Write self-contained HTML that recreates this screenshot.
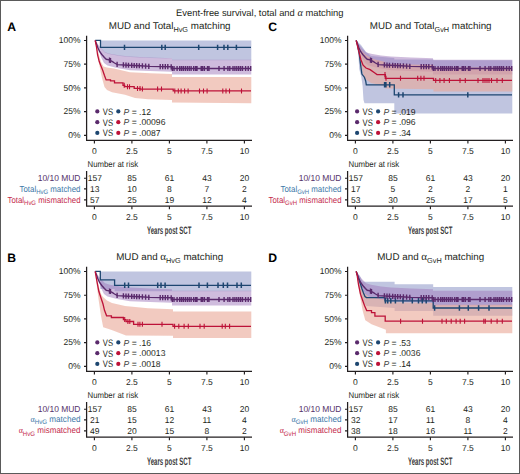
<!DOCTYPE html><html><head><meta charset="utf-8"><style>html,body{margin:0;padding:0;background:#fff;overflow:hidden;}svg{display:block;font-family:"Liberation Sans",sans-serif;text-rendering:geometricPrecision;}</style></head><body>
<svg width="520" height="474" viewBox="0 0 520 474">
<rect x="0" y="0" width="520" height="474" fill="#fff"/>
<text x="176.1" y="15.6" font-size="9.4" fill="#231f20" textLength="167.4" lengthAdjust="spacingAndGlyphs">Event-free survival, total and <tspan font-family="Liberation Serif" font-style="italic" font-size="10.5">α</tspan> matching</text>
<text x="7.3" y="31.1" font-size="12.2" fill="#000" text-anchor="start" font-weight="bold">A</text>
<text x="169.7" y="29.3" font-size="9.8" fill="#231f20" text-anchor="middle">MUD and Total<tspan font-size="7.3" dy="2.6">HvG</tspan><tspan dy="-2.6"> matching</tspan></text>
<path d="M100.5 40.4 L251.3 40.4 L251.3 60.2 L172 60.2 L172 58.6 L150 57.9 L130 56.9 L120 55.9 L110 54.2 L105 52.7 L100.5 47.9 Z" fill="#c0c5e0" fill-opacity="1.0"/>
<path d="M95.2 40.4 L97 43 L100.5 47.5 L105 52.3 L110 53.8 L120 55.5 L130 56.5 L150 57.5 L172 58.2 L172 59.8 L251.3 59.8 L251.3 74.4 L172 74.4 L172 71.8 L150 70.9 L130 70.3 L117 68 L107.5 65.5 L104 63 L101 57 L98 48 Z" fill="#a07abb" fill-opacity="0.5"/>
<path d="M95.2 40.4 L97 47 L99.3 56 L101 62 L103.5 66.5 L107 67.6 L114 68.6 L130 72.2 L150 73.2 L172 74.1 L172 76.9 L251.3 76.9 L251.3 103.3 L172 102.6 L172 100 L148 99.2 L135 98 L125 94.8 L112 92.3 L107 90 L104.5 87 L102 78 L99.5 66 L97.5 55 Z" fill="#e9a796" fill-opacity="0.6"/>
<path d="M95.2 40.4 L100.5 40.4 L100.5 47.4 L251 47.4" fill="none" stroke="#1d4670" stroke-width="1.3" stroke-linejoin="miter"/>
<path d="M124.5 44.7V50.1M161.8 44.7V50.1M165.2 44.7V50.1M198.7 44.7V50.1M217.6 44.7V50.1M224 44.7V50.1M227.8 44.7V50.1M236.4 44.7V50.1" stroke="#1d4670" stroke-width="1.5" fill="none"/>
<path d="M95.2 40.4 L96.5 44 L98 48 L99.6 51.5 L101.8 54.5 L104.4 57.5 L106.3 59.3 L108.9 59.8 L110.5 60.5 L112.5 61.7 L114.5 63 L117.5 64.6 L128 65.2 L140 65.8 L150 66.4 L172 66.8 L172 68.5 L251 68.5" fill="none" stroke="#5a2a6c" stroke-width="1.4" stroke-linejoin="miter"/>
<path d="M109.5 57.46V62.66M110.5 57.9V63.1M117.1 61.79V66.99M123.4 62.34V67.54M126 62.49V67.69M128.5 62.63V67.83M131.7 62.79V67.98M134.2 62.91V68.11M136.7 63.04V68.23M139.3 63.16V68.36M142.4 63.34V68.54M145.6 63.54V68.74M148.8 63.73V68.93M160.2 63.99V69.19M162.7 64.03V69.23M165.3 64.08V69.28M167.8 64.12V69.32M171.2 64.19V69.39M172.3 65.9V71.1M174 65.9V71.1M177.1 65.9V71.1M179.7 65.9V71.1M181.5 65.9V71.1M183.3 65.9V71.1M185.3 65.9V71.1M187.3 65.9V71.1M189.2 65.9V71.1M191.1 65.9V71.1M193.7 65.9V71.1M195.6 65.9V71.1M197 65.9V71.1M201.2 65.9V71.1M202.6 65.9V71.1M204.4 65.9V71.1M207.5 65.9V71.1M209 65.9V71.1M219 65.9V71.1M224.1 65.9V71.1M227.9 65.9V71.1M229.8 65.9V71.1M233 65.9V71.1M234.9 65.9V71.1M236.8 65.9V71.1M238.7 65.9V71.1M240.6 65.9V71.1M242.5 65.9V71.1M245.6 65.9V71.1M248.2 65.9V71.1M250.7 65.9V71.1" stroke="#5a2a6c" stroke-width="1.4" fill="none"/>
<path d="M95.2 40.4 L96.5 47 L97.6 55 L99.3 61.8 L101 66 L102.7 70.2 L104.4 75.3 L106.1 79.9 L110.5 79.9 L110.5 80.8 L114.5 80.8 L114.5 82.8 L123 82.8 L123 85.3 L124.7 85.3 L124.7 86.7 L134.2 86.7 L134.2 88.4 L140 88.4 L140 89.1 L173.2 89.1 L173.2 90.9 L251 90.9" fill="none" stroke="#bd1238" stroke-width="1.3" stroke-linejoin="miter"/>
<path d="M124.2 82.8V87.8M127.5 84.2V89.2M129.5 84.2V89.2M137.5 85.9V90.9M140 85.9V90.9M142.4 86.6V91.6M157.6 86.6V91.6M161.5 86.6V91.6M174.8 88.4V93.4M178.3 88.4V93.4M181.1 88.4V93.4M184.6 88.4V93.4M188.1 88.4V93.4M199.5 88.4V93.4M203.5 88.4V93.4M207.1 88.4V93.4M222.8 88.4V93.4M226 88.4V93.4M229.5 88.4V93.4M241.5 88.4V93.4" stroke="#bd1238" stroke-width="1.1" fill="none"/>
<path d="M86.6 35.7V140.4H252" fill="none" stroke="#231f20" stroke-width="1.25"/>
<path d="M84 40.5H86.6M84 64.2H86.6M84 87.9H86.6M84 111.6H86.6M84 135.3H86.6M94.4 140.3V143.6M131.9 140.3V143.6M169.4 140.3V143.6M206.9 140.3V143.6M244.4 140.3V143.6" stroke="#231f20" stroke-width="1.15"/>
<text x="80.6" y="43.1" font-size="8.5" fill="#231f20" text-anchor="end" font-weight="normal">100%</text>
<text x="80.6" y="66.8" font-size="8.5" fill="#231f20" text-anchor="end" font-weight="normal">75%</text>
<text x="80.6" y="90.5" font-size="8.5" fill="#231f20" text-anchor="end" font-weight="normal">50%</text>
<text x="80.6" y="114.2" font-size="8.5" fill="#231f20" text-anchor="end" font-weight="normal">25%</text>
<text x="80.6" y="137.9" font-size="8.5" fill="#231f20" text-anchor="end" font-weight="normal">0%</text>
<text x="94.4" y="153.9" font-size="8.5" fill="#231f20" text-anchor="middle" font-weight="normal">0</text>
<text x="131.9" y="153.9" font-size="8.5" fill="#231f20" text-anchor="middle" font-weight="normal">2.5</text>
<text x="169.4" y="153.9" font-size="8.5" fill="#231f20" text-anchor="middle" font-weight="normal">5</text>
<text x="206.9" y="153.9" font-size="8.5" fill="#231f20" text-anchor="middle" font-weight="normal">7.5</text>
<text x="244.4" y="153.9" font-size="8.5" fill="#231f20" text-anchor="middle" font-weight="normal">10</text>
<circle cx="97.3" cy="111.4" r="2.1" fill="#5a2a6c"/>
<circle cx="118.3" cy="111.4" r="2.1" fill="#1d4670"/>
<text x="102.8" y="114.7" font-size="9.4" fill="#231f20" text-anchor="start" font-weight="normal" textLength="10.2" lengthAdjust="spacingAndGlyphs">VS</text>
<text x="123.6" y="114.5" font-size="8.6" fill="#231f20"><tspan font-style="italic" fill="#444">P</tspan> = .12</text>
<circle cx="97.3" cy="122.2" r="2.1" fill="#5a2a6c"/>
<circle cx="118.3" cy="122.2" r="2.1" fill="#bd1238"/>
<text x="102.8" y="125.5" font-size="9.4" fill="#231f20" text-anchor="start" font-weight="normal" textLength="10.2" lengthAdjust="spacingAndGlyphs">VS</text>
<text x="123.6" y="125.3" font-size="8.6" fill="#231f20"><tspan font-style="italic" fill="#444">P</tspan> = .00096</text>
<circle cx="97.3" cy="132.9" r="2.1" fill="#1d4670"/>
<circle cx="118.3" cy="132.9" r="2.1" fill="#bd1238"/>
<text x="102.8" y="136.2" font-size="9.4" fill="#231f20" text-anchor="start" font-weight="normal" textLength="10.2" lengthAdjust="spacingAndGlyphs">VS</text>
<text x="123.6" y="136" font-size="8.6" fill="#231f20"><tspan font-style="italic" fill="#444">P</tspan> = .0087</text>
<text x="87.5" y="166.8" font-size="8.5" fill="#231f20" text-anchor="start" font-weight="normal" textLength="50.7" lengthAdjust="spacingAndGlyphs">Number at risk</text>
<path d="M86.6 171V206.2H252" fill="none" stroke="#231f20" stroke-width="1.25"/>
<path d="M84 178.2H86.6M84 188.8H86.6M84 199.8H86.6M94.4 206.2V209.2M131.9 206.2V209.2M169.4 206.2V209.2M206.9 206.2V209.2M244.4 206.2V209.2" stroke="#231f20" stroke-width="1.15"/>
<text x="94.4" y="219.8" font-size="8.5" fill="#231f20" text-anchor="middle" font-weight="normal">0</text>
<text x="131.9" y="219.8" font-size="8.5" fill="#231f20" text-anchor="middle" font-weight="normal">2.5</text>
<text x="169.4" y="219.8" font-size="8.5" fill="#231f20" text-anchor="middle" font-weight="normal">5</text>
<text x="206.9" y="219.8" font-size="8.5" fill="#231f20" text-anchor="middle" font-weight="normal">7.5</text>
<text x="244.4" y="219.8" font-size="8.5" fill="#231f20" text-anchor="middle" font-weight="normal">10</text>
<text x="147" y="233.6" font-size="10.8" font-weight="bold" fill="#3a3a3a" textLength="44.4" lengthAdjust="spacingAndGlyphs">Years post SCT</text>
<text x="80.5" y="180.7" font-size="8.7" fill="#55336a" text-anchor="end" font-weight="normal" textLength="42.8" lengthAdjust="spacingAndGlyphs">10/10 MUD</text>
<text x="94.8" y="180.7" font-size="8.5" fill="#231f20" text-anchor="middle" font-weight="normal">157</text>
<text x="131.9" y="180.7" font-size="8.5" fill="#231f20" text-anchor="middle" font-weight="normal">85</text>
<text x="169.4" y="180.7" font-size="8.5" fill="#231f20" text-anchor="middle" font-weight="normal">61</text>
<text x="206.9" y="180.7" font-size="8.5" fill="#231f20" text-anchor="middle" font-weight="normal">43</text>
<text x="244.4" y="180.7" font-size="8.5" fill="#231f20" text-anchor="middle" font-weight="normal">20</text>
<text x="19.5" y="191.6" font-size="8.7" fill="#3d78a8" text-anchor="start" textLength="61" lengthAdjust="spacingAndGlyphs">Total<tspan font-size="6.6" dy="2.2">HvG</tspan><tspan dy="-2.2"> matched</tspan></text>
<text x="94.8" y="191.6" font-size="8.5" fill="#231f20" text-anchor="middle" font-weight="normal">13</text>
<text x="131.9" y="191.6" font-size="8.5" fill="#231f20" text-anchor="middle" font-weight="normal">10</text>
<text x="169.4" y="191.6" font-size="8.5" fill="#231f20" text-anchor="middle" font-weight="normal">8</text>
<text x="206.9" y="191.6" font-size="8.5" fill="#231f20" text-anchor="middle" font-weight="normal">7</text>
<text x="244.4" y="191.6" font-size="8.5" fill="#231f20" text-anchor="middle" font-weight="normal">2</text>
<text x="7.5" y="202.9" font-size="8.7" fill="#c42a4c" text-anchor="start" textLength="73" lengthAdjust="spacingAndGlyphs">Total<tspan font-size="6.6" dy="2.2">HvG</tspan><tspan dy="-2.2"> mismatched</tspan></text>
<text x="94.8" y="202.9" font-size="8.5" fill="#231f20" text-anchor="middle" font-weight="normal">57</text>
<text x="131.9" y="202.9" font-size="8.5" fill="#231f20" text-anchor="middle" font-weight="normal">25</text>
<text x="169.4" y="202.9" font-size="8.5" fill="#231f20" text-anchor="middle" font-weight="normal">19</text>
<text x="206.9" y="202.9" font-size="8.5" fill="#231f20" text-anchor="middle" font-weight="normal">12</text>
<text x="244.4" y="202.9" font-size="8.5" fill="#231f20" text-anchor="middle" font-weight="normal">4</text>
<text x="7.3" y="262.1" font-size="12.2" fill="#000" text-anchor="start" font-weight="bold">B</text>
<text x="169.7" y="260.3" font-size="9.8" fill="#231f20" text-anchor="middle">MUD and <tspan font-family="Liberation Serif" font-size="11">α</tspan><tspan font-size="7.3" dy="2.6">HvG</tspan><tspan dy="-2.6"> matching</tspan></text>
<path d="M100.3 271.4 L251.3 271.4 L251.3 291.3 L114.6 291.3 L114.6 289 L100.3 289 Z" fill="#c0c5e0" fill-opacity="1.0"/>
<path d="M95.2 271.4 L97 274 L100.5 278.5 L105 283.3 L110 284.8 L120 286.5 L130 287.5 L150 288.5 L172 289.2 L172 290.8 L251.3 290.8 L251.3 305.4 L172 305.4 L172 302.8 L150 301.9 L130 301.3 L117 299 L107.5 296.5 L104 294 L101 288 L98 279 Z" fill="#a07abb" fill-opacity="0.5"/>
<path d="M95.2 271.4 L97 279 L99 287 L101 294 L103 297 L107 300.5 L112 303 L125 306 L148 308.3 L173 309.2 L173 311.4 L251.3 311.4 L251.3 338 L173 338 L173 335.8 L126 335.4 L111 329.7 L103.2 327.2 L101 316 L98.5 299 L96.5 283 Z" fill="#e9a796" fill-opacity="0.6"/>
<path d="M95.2 271.4 L100.3 271.4 L100.3 279.9 L114.6 279.9 L114.6 285.3 L251 285.3" fill="none" stroke="#1d4670" stroke-width="1.3" stroke-linejoin="miter"/>
<path d="M124.7 282.6V288M128.5 282.6V288M157.7 282.6V288M161 282.6V288M165.1 282.6V288M199 282.6V288M207.4 282.6V288M218 282.6V288M223.3 282.6V288M227.5 282.6V288M237 282.6V288M241.3 282.6V288" stroke="#1d4670" stroke-width="1.5" fill="none"/>
<path d="M95.2 271.4 L96.5 275 L98 279 L99.6 282.5 L101.8 285.5 L104.4 288.5 L106.3 290.3 L108.9 290.8 L110.5 291.5 L112.5 292.7 L114.5 294 L117.5 295.6 L128 296.2 L140 296.8 L150 297.4 L172 297.8 L172 299.5 L251 299.5" fill="none" stroke="#5a2a6c" stroke-width="1.4" stroke-linejoin="miter"/>
<path d="M109.5 288.46V293.66M110.5 288.9V294.1M117.1 292.79V297.99M123.4 293.34V298.54M126 293.49V298.69M128.5 293.62V298.82M131.7 293.79V298.99M134.2 293.91V299.11M136.7 294.04V299.24M139.3 294.17V299.37M142.4 294.34V299.54M145.6 294.54V299.74M148.8 294.73V299.93M160.2 294.99V300.19M162.7 295.03V300.23M165.3 295.08V300.28M167.8 295.12V300.32M171.2 295.19V300.39M172.3 296.9V302.1M174 296.9V302.1M177.1 296.9V302.1M179.7 296.9V302.1M181.5 296.9V302.1M183.3 296.9V302.1M185.3 296.9V302.1M187.3 296.9V302.1M189.2 296.9V302.1M191.1 296.9V302.1M193.7 296.9V302.1M195.6 296.9V302.1M197 296.9V302.1M201.2 296.9V302.1M202.6 296.9V302.1M204.4 296.9V302.1M207.5 296.9V302.1M209 296.9V302.1M219 296.9V302.1M224.1 296.9V302.1M227.9 296.9V302.1M229.8 296.9V302.1M233 296.9V302.1M234.9 296.9V302.1M236.8 296.9V302.1M238.7 296.9V302.1M240.6 296.9V302.1M242.5 296.9V302.1M245.6 296.9V302.1M248.2 296.9V302.1M250.7 296.9V302.1" stroke="#5a2a6c" stroke-width="1.4" fill="none"/>
<path d="M95.2 271.4 L96.5 279 L98.8 291.3 L101 298 L103 304 L104.5 310.3 L106.6 315.8 L111.4 315.8 L111.4 317.5 L123.4 317.5 L123.4 319.6 L126 319.6 L126 321.5 L133.6 321.5 L133.6 324.3 L173 324.3 L173 326.3 L251 326.3" fill="none" stroke="#bd1238" stroke-width="1.3" stroke-linejoin="miter"/>
<path d="M124.7 317.1V322.1M127.9 319V324M129.8 319V324M138 321.8V326.8M139.9 321.8V326.8M142.4 321.8V326.8M162 321.8V326.8M174.6 323.8V328.8M178.8 323.8V328.8M184.1 323.8V328.8M188.3 323.8V328.8M200 323.8V328.8M204.2 323.8V328.8M222.2 323.8V328.8M225.3 323.8V328.8M229.6 323.8V328.8" stroke="#bd1238" stroke-width="1.1" fill="none"/>
<path d="M86.6 266.7V371.4H252" fill="none" stroke="#231f20" stroke-width="1.25"/>
<path d="M84 271.5H86.6M84 295.2H86.6M84 318.9H86.6M84 342.6H86.6M84 366.3H86.6M94.4 371.3V374.6M131.9 371.3V374.6M169.4 371.3V374.6M206.9 371.3V374.6M244.4 371.3V374.6" stroke="#231f20" stroke-width="1.15"/>
<text x="80.6" y="274.1" font-size="8.5" fill="#231f20" text-anchor="end" font-weight="normal">100%</text>
<text x="80.6" y="297.8" font-size="8.5" fill="#231f20" text-anchor="end" font-weight="normal">75%</text>
<text x="80.6" y="321.5" font-size="8.5" fill="#231f20" text-anchor="end" font-weight="normal">50%</text>
<text x="80.6" y="345.2" font-size="8.5" fill="#231f20" text-anchor="end" font-weight="normal">25%</text>
<text x="80.6" y="368.9" font-size="8.5" fill="#231f20" text-anchor="end" font-weight="normal">0%</text>
<text x="94.4" y="384.9" font-size="8.5" fill="#231f20" text-anchor="middle" font-weight="normal">0</text>
<text x="131.9" y="384.9" font-size="8.5" fill="#231f20" text-anchor="middle" font-weight="normal">2.5</text>
<text x="169.4" y="384.9" font-size="8.5" fill="#231f20" text-anchor="middle" font-weight="normal">5</text>
<text x="206.9" y="384.9" font-size="8.5" fill="#231f20" text-anchor="middle" font-weight="normal">7.5</text>
<text x="244.4" y="384.9" font-size="8.5" fill="#231f20" text-anchor="middle" font-weight="normal">10</text>
<circle cx="97.3" cy="342.4" r="2.1" fill="#5a2a6c"/>
<circle cx="118.3" cy="342.4" r="2.1" fill="#1d4670"/>
<text x="102.8" y="345.7" font-size="9.4" fill="#231f20" text-anchor="start" font-weight="normal" textLength="10.2" lengthAdjust="spacingAndGlyphs">VS</text>
<text x="123.6" y="345.5" font-size="8.6" fill="#231f20"><tspan font-style="italic" fill="#444">P</tspan> = .16</text>
<circle cx="97.3" cy="353.2" r="2.1" fill="#5a2a6c"/>
<circle cx="118.3" cy="353.2" r="2.1" fill="#bd1238"/>
<text x="102.8" y="356.5" font-size="9.4" fill="#231f20" text-anchor="start" font-weight="normal" textLength="10.2" lengthAdjust="spacingAndGlyphs">VS</text>
<text x="123.6" y="356.3" font-size="8.6" fill="#231f20"><tspan font-style="italic" fill="#444">P</tspan> = .00013</text>
<circle cx="97.3" cy="363.9" r="2.1" fill="#1d4670"/>
<circle cx="118.3" cy="363.9" r="2.1" fill="#bd1238"/>
<text x="102.8" y="367.2" font-size="9.4" fill="#231f20" text-anchor="start" font-weight="normal" textLength="10.2" lengthAdjust="spacingAndGlyphs">VS</text>
<text x="123.6" y="367" font-size="8.6" fill="#231f20"><tspan font-style="italic" fill="#444">P</tspan> = .0018</text>
<text x="87.5" y="397.8" font-size="8.5" fill="#231f20" text-anchor="start" font-weight="normal" textLength="50.7" lengthAdjust="spacingAndGlyphs">Number at risk</text>
<path d="M86.6 402V437.2H252" fill="none" stroke="#231f20" stroke-width="1.25"/>
<path d="M84 409.2H86.6M84 419.8H86.6M84 430.8H86.6M94.4 437.2V440.2M131.9 437.2V440.2M169.4 437.2V440.2M206.9 437.2V440.2M244.4 437.2V440.2" stroke="#231f20" stroke-width="1.15"/>
<text x="94.4" y="450.8" font-size="8.5" fill="#231f20" text-anchor="middle" font-weight="normal">0</text>
<text x="131.9" y="450.8" font-size="8.5" fill="#231f20" text-anchor="middle" font-weight="normal">2.5</text>
<text x="169.4" y="450.8" font-size="8.5" fill="#231f20" text-anchor="middle" font-weight="normal">5</text>
<text x="206.9" y="450.8" font-size="8.5" fill="#231f20" text-anchor="middle" font-weight="normal">7.5</text>
<text x="244.4" y="450.8" font-size="8.5" fill="#231f20" text-anchor="middle" font-weight="normal">10</text>
<text x="147" y="464.6" font-size="10.8" font-weight="bold" fill="#3a3a3a" textLength="44.4" lengthAdjust="spacingAndGlyphs">Years post SCT</text>
<text x="80.5" y="411.7" font-size="8.7" fill="#55336a" text-anchor="end" font-weight="normal" textLength="42.8" lengthAdjust="spacingAndGlyphs">10/10 MUD</text>
<text x="94.8" y="411.7" font-size="8.5" fill="#231f20" text-anchor="middle" font-weight="normal">157</text>
<text x="131.9" y="411.7" font-size="8.5" fill="#231f20" text-anchor="middle" font-weight="normal">85</text>
<text x="169.4" y="411.7" font-size="8.5" fill="#231f20" text-anchor="middle" font-weight="normal">61</text>
<text x="206.9" y="411.7" font-size="8.5" fill="#231f20" text-anchor="middle" font-weight="normal">43</text>
<text x="244.4" y="411.7" font-size="8.5" fill="#231f20" text-anchor="middle" font-weight="normal">20</text>
<text x="30.5" y="422.6" font-size="8.7" fill="#3d78a8" text-anchor="start" textLength="50" lengthAdjust="spacingAndGlyphs"><tspan font-family="Liberation Serif" font-size="8.6" dy="-0.6">α</tspan><tspan dy="0.6"></tspan><tspan font-size="6.6" dy="2.2">HvG</tspan><tspan dy="-2.2"> matched</tspan></text>
<text x="94.8" y="422.6" font-size="8.5" fill="#231f20" text-anchor="middle" font-weight="normal">21</text>
<text x="131.9" y="422.6" font-size="8.5" fill="#231f20" text-anchor="middle" font-weight="normal">15</text>
<text x="169.4" y="422.6" font-size="8.5" fill="#231f20" text-anchor="middle" font-weight="normal">12</text>
<text x="206.9" y="422.6" font-size="8.5" fill="#231f20" text-anchor="middle" font-weight="normal">11</text>
<text x="244.4" y="422.6" font-size="8.5" fill="#231f20" text-anchor="middle" font-weight="normal">4</text>
<text x="18.7" y="433.9" font-size="8.7" fill="#c42a4c" text-anchor="start" textLength="61.8" lengthAdjust="spacingAndGlyphs"><tspan font-family="Liberation Serif" font-size="8.6" dy="-0.6">α</tspan><tspan dy="0.6"></tspan><tspan font-size="6.6" dy="2.2">HvG</tspan><tspan dy="-2.2"> mismatched</tspan></text>
<text x="94.8" y="433.9" font-size="8.5" fill="#231f20" text-anchor="middle" font-weight="normal">49</text>
<text x="131.9" y="433.9" font-size="8.5" fill="#231f20" text-anchor="middle" font-weight="normal">20</text>
<text x="169.4" y="433.9" font-size="8.5" fill="#231f20" text-anchor="middle" font-weight="normal">15</text>
<text x="206.9" y="433.9" font-size="8.5" fill="#231f20" text-anchor="middle" font-weight="normal">8</text>
<text x="244.4" y="433.9" font-size="8.5" fill="#231f20" text-anchor="middle" font-weight="normal">2</text>
<text x="268.3" y="31.1" font-size="12.2" fill="#000" text-anchor="start" font-weight="bold">C</text>
<text x="430.7" y="29.3" font-size="9.8" fill="#231f20" text-anchor="middle">MUD and Total<tspan font-size="7.3" dy="2.6">GvH</tspan><tspan dy="-2.6"> matching</tspan></text>
<path d="M356.2 40.4 L361 45 L366 52 L371 56 L394.3 58 L394.3 59.5 L433.5 59.5 L433.5 60.3 L512.3 60.3 L512.3 113.4 L394.3 113.4 L394.3 103.2 L364.5 103.2 L363.5 100 L362.6 86 L361.2 76.5 L359.2 69 L358.4 55 Z" fill="#c0c5e0" fill-opacity="1.0"/>
<path d="M356.2 40.4 L358 43 L361.5 47.5 L366 52.3 L371 53.8 L381 55.5 L391 56.5 L411 57.5 L433 58.2 L433 59.8 L512.3 59.8 L512.3 74.4 L433 74.4 L433 71.8 L411 70.9 L391 70.3 L378 68 L368.5 65.5 L365 63 L362 57 L359 48 Z" fill="#a07abb" fill-opacity="0.5"/>
<path d="M356.2 40.4 L361 50 L366 55 L373 59 L385.3 62 L385.3 64 L433.5 65 L433.5 67.5 L512.3 67.5 L512.3 91.6 L433.5 91.6 L433.5 89.2 L385.3 88.5 L385.3 86 L371 83 L364 78 L361 66 L358 50 Z" fill="#e9a796" fill-opacity="0.6"/>
<path d="M356.2 40.4 L357.5 45 L359 52 L360.6 64.6 L361.9 74.1 L364.4 77.2 L365.7 81 L366.3 84.8 L394.3 84.8 L394.3 94.9 L512 94.9" fill="none" stroke="#1d4670" stroke-width="1.3" stroke-linejoin="miter"/>
<path d="M384.6 82.1V87.5M385.9 82.1V87.5M389.7 82.1V87.5M398.6 92.2V97.6M403 92.2V97.6M467.8 92.2V97.6" stroke="#1d4670" stroke-width="1.5" fill="none"/>
<path d="M356.2 40.4 L357.5 44 L359 48 L360.6 51.5 L362.8 54.5 L365.4 57.5 L367.3 59.3 L369.9 59.8 L371.5 60.5 L373.5 61.7 L375.5 63 L378.5 64.6 L389 65.2 L401 65.8 L411 66.4 L433 66.8 L433 68.5 L512 68.5" fill="none" stroke="#5a2a6c" stroke-width="1.4" stroke-linejoin="miter"/>
<path d="M370.5 57.46V62.66M371.5 57.9V63.1M378.1 61.79V66.99M384.4 62.34V67.54M387 62.49V67.69M389.5 62.63V67.83M392.7 62.79V67.98M395.2 62.91V68.11M397.7 63.04V68.23M400.3 63.16V68.36M403.4 63.34V68.54M406.6 63.54V68.74M409.8 63.73V68.93M421.2 63.99V69.19M423.7 64.03V69.23M426.3 64.08V69.28M428.8 64.12V69.32M432.2 64.19V69.39M433.3 65.9V71.1M435 65.9V71.1M438.1 65.9V71.1M440.7 65.9V71.1M442.5 65.9V71.1M444.3 65.9V71.1M446.3 65.9V71.1M448.3 65.9V71.1M450.2 65.9V71.1M452.1 65.9V71.1M454.7 65.9V71.1M456.6 65.9V71.1M458 65.9V71.1M462.2 65.9V71.1M463.6 65.9V71.1M465.4 65.9V71.1M468.5 65.9V71.1M470 65.9V71.1M480 65.9V71.1M485.1 65.9V71.1M488.9 65.9V71.1M490.8 65.9V71.1M494 65.9V71.1M495.9 65.9V71.1M497.8 65.9V71.1M499.7 65.9V71.1M501.6 65.9V71.1M503.5 65.9V71.1M506.6 65.9V71.1M509.2 65.9V71.1M511.7 65.9V71.1" stroke="#5a2a6c" stroke-width="1.4" fill="none"/>
<path d="M356.2 40.4 L357.5 46 L359 52 L361 60 L363.1 65.2 L366 68 L370.1 69.6 L374.5 72.8 L377 74.6 L385.3 74.6 L385.3 78.3 L433.5 78.3 L433.5 80.4 L512 80.4" fill="none" stroke="#bd1238" stroke-width="1.3" stroke-linejoin="miter"/>
<path d="M385 72.1V77.1M386 75.8V80.8M400.5 75.8V80.8M417.7 75.8V80.8M420.9 75.8V80.8M424 75.8V80.8M435.7 77.9V82.9M439.9 77.9V82.9M444.1 77.9V82.9M449.4 77.9V82.9M460 77.9V82.9M465.3 77.9V82.9M478 77.9V82.9M483 77.9V82.9M485 77.9V82.9M487 77.9V82.9M489 77.9V82.9M491.5 77.9V82.9M497 77.9V82.9M502.3 77.9V82.9" stroke="#bd1238" stroke-width="1.1" fill="none"/>
<path d="M347.6 35.7V140.4H513" fill="none" stroke="#231f20" stroke-width="1.25"/>
<path d="M345 40.5H347.6M345 64.2H347.6M345 87.9H347.6M345 111.6H347.6M345 135.3H347.6M355.4 140.3V143.6M392.9 140.3V143.6M430.4 140.3V143.6M467.9 140.3V143.6M505.4 140.3V143.6" stroke="#231f20" stroke-width="1.15"/>
<text x="341.6" y="43.1" font-size="8.5" fill="#231f20" text-anchor="end" font-weight="normal">100%</text>
<text x="341.6" y="66.8" font-size="8.5" fill="#231f20" text-anchor="end" font-weight="normal">75%</text>
<text x="341.6" y="90.5" font-size="8.5" fill="#231f20" text-anchor="end" font-weight="normal">50%</text>
<text x="341.6" y="114.2" font-size="8.5" fill="#231f20" text-anchor="end" font-weight="normal">25%</text>
<text x="341.6" y="137.9" font-size="8.5" fill="#231f20" text-anchor="end" font-weight="normal">0%</text>
<text x="355.4" y="153.9" font-size="8.5" fill="#231f20" text-anchor="middle" font-weight="normal">0</text>
<text x="392.9" y="153.9" font-size="8.5" fill="#231f20" text-anchor="middle" font-weight="normal">2.5</text>
<text x="430.4" y="153.9" font-size="8.5" fill="#231f20" text-anchor="middle" font-weight="normal">5</text>
<text x="467.9" y="153.9" font-size="8.5" fill="#231f20" text-anchor="middle" font-weight="normal">7.5</text>
<text x="505.4" y="153.9" font-size="8.5" fill="#231f20" text-anchor="middle" font-weight="normal">10</text>
<circle cx="357.1" cy="111.4" r="2.1" fill="#5a2a6c"/>
<circle cx="378.1" cy="111.4" r="2.1" fill="#1d4670"/>
<text x="362.6" y="114.7" font-size="9.4" fill="#231f20" text-anchor="start" font-weight="normal" textLength="10.2" lengthAdjust="spacingAndGlyphs">VS</text>
<text x="383.4" y="114.5" font-size="8.6" fill="#231f20"><tspan font-style="italic" fill="#444">P</tspan> = .019</text>
<circle cx="357.1" cy="122.2" r="2.1" fill="#5a2a6c"/>
<circle cx="378.1" cy="122.2" r="2.1" fill="#bd1238"/>
<text x="362.6" y="125.5" font-size="9.4" fill="#231f20" text-anchor="start" font-weight="normal" textLength="10.2" lengthAdjust="spacingAndGlyphs">VS</text>
<text x="383.4" y="125.3" font-size="8.6" fill="#231f20"><tspan font-style="italic" fill="#444">P</tspan> = .096</text>
<circle cx="357.1" cy="132.9" r="2.1" fill="#1d4670"/>
<circle cx="378.1" cy="132.9" r="2.1" fill="#bd1238"/>
<text x="362.6" y="136.2" font-size="9.4" fill="#231f20" text-anchor="start" font-weight="normal" textLength="10.2" lengthAdjust="spacingAndGlyphs">VS</text>
<text x="383.4" y="136" font-size="8.6" fill="#231f20"><tspan font-style="italic" fill="#444">P</tspan> = .34</text>
<text x="348.5" y="166.8" font-size="8.5" fill="#231f20" text-anchor="start" font-weight="normal" textLength="50.7" lengthAdjust="spacingAndGlyphs">Number at risk</text>
<path d="M347.6 171V206.2H513" fill="none" stroke="#231f20" stroke-width="1.25"/>
<path d="M345 178.2H347.6M345 188.8H347.6M345 199.8H347.6M355.4 206.2V209.2M392.9 206.2V209.2M430.4 206.2V209.2M467.9 206.2V209.2M505.4 206.2V209.2" stroke="#231f20" stroke-width="1.15"/>
<text x="355.4" y="219.8" font-size="8.5" fill="#231f20" text-anchor="middle" font-weight="normal">0</text>
<text x="392.9" y="219.8" font-size="8.5" fill="#231f20" text-anchor="middle" font-weight="normal">2.5</text>
<text x="430.4" y="219.8" font-size="8.5" fill="#231f20" text-anchor="middle" font-weight="normal">5</text>
<text x="467.9" y="219.8" font-size="8.5" fill="#231f20" text-anchor="middle" font-weight="normal">7.5</text>
<text x="505.4" y="219.8" font-size="8.5" fill="#231f20" text-anchor="middle" font-weight="normal">10</text>
<text x="408" y="233.6" font-size="10.8" font-weight="bold" fill="#3a3a3a" textLength="44.4" lengthAdjust="spacingAndGlyphs">Years post SCT</text>
<text x="341.5" y="180.7" font-size="8.7" fill="#55336a" text-anchor="end" font-weight="normal" textLength="42.8" lengthAdjust="spacingAndGlyphs">10/10 MUD</text>
<text x="355.8" y="180.7" font-size="8.5" fill="#231f20" text-anchor="middle" font-weight="normal">157</text>
<text x="392.9" y="180.7" font-size="8.5" fill="#231f20" text-anchor="middle" font-weight="normal">85</text>
<text x="430.4" y="180.7" font-size="8.5" fill="#231f20" text-anchor="middle" font-weight="normal">61</text>
<text x="467.9" y="180.7" font-size="8.5" fill="#231f20" text-anchor="middle" font-weight="normal">43</text>
<text x="505.4" y="180.7" font-size="8.5" fill="#231f20" text-anchor="middle" font-weight="normal">20</text>
<text x="280.5" y="191.6" font-size="8.7" fill="#3d78a8" text-anchor="start" textLength="61" lengthAdjust="spacingAndGlyphs">Total<tspan font-size="6.6" dy="2.2">GvH</tspan><tspan dy="-2.2"> matched</tspan></text>
<text x="355.8" y="191.6" font-size="8.5" fill="#231f20" text-anchor="middle" font-weight="normal">17</text>
<text x="392.9" y="191.6" font-size="8.5" fill="#231f20" text-anchor="middle" font-weight="normal">5</text>
<text x="430.4" y="191.6" font-size="8.5" fill="#231f20" text-anchor="middle" font-weight="normal">2</text>
<text x="467.9" y="191.6" font-size="8.5" fill="#231f20" text-anchor="middle" font-weight="normal">2</text>
<text x="505.4" y="191.6" font-size="8.5" fill="#231f20" text-anchor="middle" font-weight="normal">1</text>
<text x="268.5" y="202.9" font-size="8.7" fill="#c42a4c" text-anchor="start" textLength="73" lengthAdjust="spacingAndGlyphs">Total<tspan font-size="6.6" dy="2.2">GvH</tspan><tspan dy="-2.2"> mismatched</tspan></text>
<text x="355.8" y="202.9" font-size="8.5" fill="#231f20" text-anchor="middle" font-weight="normal">53</text>
<text x="392.9" y="202.9" font-size="8.5" fill="#231f20" text-anchor="middle" font-weight="normal">30</text>
<text x="430.4" y="202.9" font-size="8.5" fill="#231f20" text-anchor="middle" font-weight="normal">25</text>
<text x="467.9" y="202.9" font-size="8.5" fill="#231f20" text-anchor="middle" font-weight="normal">17</text>
<text x="505.4" y="202.9" font-size="8.5" fill="#231f20" text-anchor="middle" font-weight="normal">5</text>
<text x="268.3" y="262.1" font-size="12.2" fill="#000" text-anchor="start" font-weight="bold">D</text>
<text x="430.7" y="260.3" font-size="9.8" fill="#231f20" text-anchor="middle">MUD and <tspan font-family="Liberation Serif" font-size="11">α</tspan><tspan font-size="7.3" dy="2.6">GvH</tspan><tspan dy="-2.6"> matching</tspan></text>
<path d="M356.2 271.4 L360 276 L362.6 281.8 L394.6 281.8 L394.6 284.3 L433.2 284.3 L433.2 287 L512.3 287 L512.3 315.8 L433.2 315.8 L433.2 311 L394.6 311 L394.6 308 L366 306 L362 299 L359 286 Z" fill="#c0c5e0" fill-opacity="1.0"/>
<path d="M356.2 271.4 L358 274 L361.5 278.5 L366 283.3 L371 284.8 L381 286.5 L391 287.5 L411 288.5 L433 289.2 L433 290.8 L512.3 290.8 L512.3 305.4 L433 305.4 L433 302.8 L411 301.9 L391 301.3 L378 299 L368.5 296.5 L365 294 L362 288 L359 279 Z" fill="#a07abb" fill-opacity="0.5"/>
<path d="M356.2 271.4 L358 277 L361 287 L364 293 L369 297 L385.2 299.5 L385.2 302 L433.2 303 L433.2 304.7 L512.3 304.7 L512.3 333.3 L385.9 333.3 L385.9 329.8 L371.5 324.3 L365.3 320.2 L362.6 310.6 L360 296 L358 283 Z" fill="#e9a796" fill-opacity="0.6"/>
<path d="M356.2 271.4 L358 277 L360.5 284 L362 289 L363.5 293 L365 296.5 L366.5 297.6 L385 297.6 L385 300.8 L433.2 300.8 L433.2 308 L512 308" fill="none" stroke="#1d4670" stroke-width="1.3" stroke-linejoin="miter"/>
<path d="M385.4 298.1V303.5M387.7 298.1V303.5M390.8 298.1V303.5M395.4 298.1V303.5M403 298.1V303.5M412.3 298.1V303.5M418.5 298.1V303.5M422.3 298.1V303.5M426.2 298.1V303.5M434.6 305.3V310.7M459.4 305.3V310.7M468.3 305.3V310.7M478.6 305.3V310.7M489 305.3V310.7" stroke="#1d4670" stroke-width="1.5" fill="none"/>
<path d="M356.2 271.4 L357.5 275 L359 279 L360.6 282.5 L362.8 285.5 L365.4 288.5 L367.3 290.3 L369.9 290.8 L371.5 291.5 L373.5 292.7 L375.5 294 L378.5 295.6 L389 296.2 L401 296.8 L411 297.4 L433 297.8 L433 299.5 L512 299.5" fill="none" stroke="#5a2a6c" stroke-width="1.4" stroke-linejoin="miter"/>
<path d="M370.5 288.46V293.66M371.5 288.9V294.1M378.1 292.79V297.99M384.4 293.34V298.54M387 293.49V298.69M389.5 293.62V298.82M392.7 293.79V298.99M395.2 293.91V299.11M397.7 294.04V299.24M400.3 294.17V299.37M403.4 294.34V299.54M406.6 294.54V299.74M409.8 294.73V299.93M421.2 294.99V300.19M423.7 295.03V300.23M426.3 295.08V300.28M428.8 295.12V300.32M432.2 295.19V300.39M433.3 296.9V302.1M435 296.9V302.1M438.1 296.9V302.1M440.7 296.9V302.1M442.5 296.9V302.1M444.3 296.9V302.1M446.3 296.9V302.1M448.3 296.9V302.1M450.2 296.9V302.1M452.1 296.9V302.1M454.7 296.9V302.1M456.6 296.9V302.1M458 296.9V302.1M462.2 296.9V302.1M463.6 296.9V302.1M465.4 296.9V302.1M468.5 296.9V302.1M470 296.9V302.1M480 296.9V302.1M485.1 296.9V302.1M488.9 296.9V302.1M490.8 296.9V302.1M494 296.9V302.1M495.9 296.9V302.1M497.8 296.9V302.1M499.7 296.9V302.1M501.6 296.9V302.1M503.5 296.9V302.1M506.6 296.9V302.1M509.2 296.9V302.1M511.7 296.9V302.1" stroke="#5a2a6c" stroke-width="1.4" fill="none"/>
<path d="M356.2 271.4 L357.1 275 L358.5 284.6 L360.5 294.2 L362.6 300.3 L364.6 305.8 L366.7 310.6 L371.5 310.6 L371.5 312.7 L374.9 312.7 L374.9 316.1 L385.2 316.1 L385.2 321.2 L512 321.2" fill="none" stroke="#bd1238" stroke-width="1.3" stroke-linejoin="miter"/>
<path d="M400.6 318.7V323.7M422.5 318.7V323.7M442 318.7V323.7M446.3 318.7V323.7M451.2 318.7V323.7M456.1 318.7V323.7M460.2 318.7V323.7M464.6 318.7V323.7M483.8 318.7V323.7M485.3 318.7V323.7M491.2 318.7V323.7M497.1 318.7V323.7M502.3 318.7V323.7" stroke="#bd1238" stroke-width="1.1" fill="none"/>
<path d="M347.6 266.7V371.4H513" fill="none" stroke="#231f20" stroke-width="1.25"/>
<path d="M345 271.5H347.6M345 295.2H347.6M345 318.9H347.6M345 342.6H347.6M345 366.3H347.6M355.4 371.3V374.6M392.9 371.3V374.6M430.4 371.3V374.6M467.9 371.3V374.6M505.4 371.3V374.6" stroke="#231f20" stroke-width="1.15"/>
<text x="341.6" y="274.1" font-size="8.5" fill="#231f20" text-anchor="end" font-weight="normal">100%</text>
<text x="341.6" y="297.8" font-size="8.5" fill="#231f20" text-anchor="end" font-weight="normal">75%</text>
<text x="341.6" y="321.5" font-size="8.5" fill="#231f20" text-anchor="end" font-weight="normal">50%</text>
<text x="341.6" y="345.2" font-size="8.5" fill="#231f20" text-anchor="end" font-weight="normal">25%</text>
<text x="341.6" y="368.9" font-size="8.5" fill="#231f20" text-anchor="end" font-weight="normal">0%</text>
<text x="355.4" y="384.9" font-size="8.5" fill="#231f20" text-anchor="middle" font-weight="normal">0</text>
<text x="392.9" y="384.9" font-size="8.5" fill="#231f20" text-anchor="middle" font-weight="normal">2.5</text>
<text x="430.4" y="384.9" font-size="8.5" fill="#231f20" text-anchor="middle" font-weight="normal">5</text>
<text x="467.9" y="384.9" font-size="8.5" fill="#231f20" text-anchor="middle" font-weight="normal">7.5</text>
<text x="505.4" y="384.9" font-size="8.5" fill="#231f20" text-anchor="middle" font-weight="normal">10</text>
<circle cx="357.1" cy="342.4" r="2.1" fill="#5a2a6c"/>
<circle cx="378.1" cy="342.4" r="2.1" fill="#1d4670"/>
<text x="362.6" y="345.7" font-size="9.4" fill="#231f20" text-anchor="start" font-weight="normal" textLength="10.2" lengthAdjust="spacingAndGlyphs">VS</text>
<text x="383.4" y="345.5" font-size="8.6" fill="#231f20"><tspan font-style="italic" fill="#444">P</tspan> = .53</text>
<circle cx="357.1" cy="353.2" r="2.1" fill="#5a2a6c"/>
<circle cx="378.1" cy="353.2" r="2.1" fill="#bd1238"/>
<text x="362.6" y="356.5" font-size="9.4" fill="#231f20" text-anchor="start" font-weight="normal" textLength="10.2" lengthAdjust="spacingAndGlyphs">VS</text>
<text x="383.4" y="356.3" font-size="8.6" fill="#231f20"><tspan font-style="italic" fill="#444">P</tspan> = .0036</text>
<circle cx="357.1" cy="363.9" r="2.1" fill="#1d4670"/>
<circle cx="378.1" cy="363.9" r="2.1" fill="#bd1238"/>
<text x="362.6" y="367.2" font-size="9.4" fill="#231f20" text-anchor="start" font-weight="normal" textLength="10.2" lengthAdjust="spacingAndGlyphs">VS</text>
<text x="383.4" y="367" font-size="8.6" fill="#231f20"><tspan font-style="italic" fill="#444">P</tspan> = .14</text>
<text x="348.5" y="397.8" font-size="8.5" fill="#231f20" text-anchor="start" font-weight="normal" textLength="50.7" lengthAdjust="spacingAndGlyphs">Number at risk</text>
<path d="M347.6 402V437.2H513" fill="none" stroke="#231f20" stroke-width="1.25"/>
<path d="M345 409.2H347.6M345 419.8H347.6M345 430.8H347.6M355.4 437.2V440.2M392.9 437.2V440.2M430.4 437.2V440.2M467.9 437.2V440.2M505.4 437.2V440.2" stroke="#231f20" stroke-width="1.15"/>
<text x="355.4" y="450.8" font-size="8.5" fill="#231f20" text-anchor="middle" font-weight="normal">0</text>
<text x="392.9" y="450.8" font-size="8.5" fill="#231f20" text-anchor="middle" font-weight="normal">2.5</text>
<text x="430.4" y="450.8" font-size="8.5" fill="#231f20" text-anchor="middle" font-weight="normal">5</text>
<text x="467.9" y="450.8" font-size="8.5" fill="#231f20" text-anchor="middle" font-weight="normal">7.5</text>
<text x="505.4" y="450.8" font-size="8.5" fill="#231f20" text-anchor="middle" font-weight="normal">10</text>
<text x="408" y="464.6" font-size="10.8" font-weight="bold" fill="#3a3a3a" textLength="44.4" lengthAdjust="spacingAndGlyphs">Years post SCT</text>
<text x="341.5" y="411.7" font-size="8.7" fill="#55336a" text-anchor="end" font-weight="normal" textLength="42.8" lengthAdjust="spacingAndGlyphs">10/10 MUD</text>
<text x="355.8" y="411.7" font-size="8.5" fill="#231f20" text-anchor="middle" font-weight="normal">157</text>
<text x="392.9" y="411.7" font-size="8.5" fill="#231f20" text-anchor="middle" font-weight="normal">85</text>
<text x="430.4" y="411.7" font-size="8.5" fill="#231f20" text-anchor="middle" font-weight="normal">61</text>
<text x="467.9" y="411.7" font-size="8.5" fill="#231f20" text-anchor="middle" font-weight="normal">43</text>
<text x="505.4" y="411.7" font-size="8.5" fill="#231f20" text-anchor="middle" font-weight="normal">20</text>
<text x="291.5" y="422.6" font-size="8.7" fill="#3d78a8" text-anchor="start" textLength="50" lengthAdjust="spacingAndGlyphs"><tspan font-family="Liberation Serif" font-size="8.6" dy="-0.6">α</tspan><tspan dy="0.6"></tspan><tspan font-size="6.6" dy="2.2">GvH</tspan><tspan dy="-2.2"> matched</tspan></text>
<text x="355.8" y="422.6" font-size="8.5" fill="#231f20" text-anchor="middle" font-weight="normal">32</text>
<text x="392.9" y="422.6" font-size="8.5" fill="#231f20" text-anchor="middle" font-weight="normal">17</text>
<text x="430.4" y="422.6" font-size="8.5" fill="#231f20" text-anchor="middle" font-weight="normal">11</text>
<text x="467.9" y="422.6" font-size="8.5" fill="#231f20" text-anchor="middle" font-weight="normal">8</text>
<text x="505.4" y="422.6" font-size="8.5" fill="#231f20" text-anchor="middle" font-weight="normal">4</text>
<text x="279.7" y="433.9" font-size="8.7" fill="#c42a4c" text-anchor="start" textLength="61.8" lengthAdjust="spacingAndGlyphs"><tspan font-family="Liberation Serif" font-size="8.6" dy="-0.6">α</tspan><tspan dy="0.6"></tspan><tspan font-size="6.6" dy="2.2">GvH</tspan><tspan dy="-2.2"> mismatched</tspan></text>
<text x="355.8" y="433.9" font-size="8.5" fill="#231f20" text-anchor="middle" font-weight="normal">38</text>
<text x="392.9" y="433.9" font-size="8.5" fill="#231f20" text-anchor="middle" font-weight="normal">18</text>
<text x="430.4" y="433.9" font-size="8.5" fill="#231f20" text-anchor="middle" font-weight="normal">16</text>
<text x="467.9" y="433.9" font-size="8.5" fill="#231f20" text-anchor="middle" font-weight="normal">11</text>
<text x="505.4" y="433.9" font-size="8.5" fill="#231f20" text-anchor="middle" font-weight="normal">2</text>
<rect x="0.5" y="0.5" width="519" height="473" fill="none" stroke="#5a5a5a" stroke-width="1"/>
</svg></body></html>
